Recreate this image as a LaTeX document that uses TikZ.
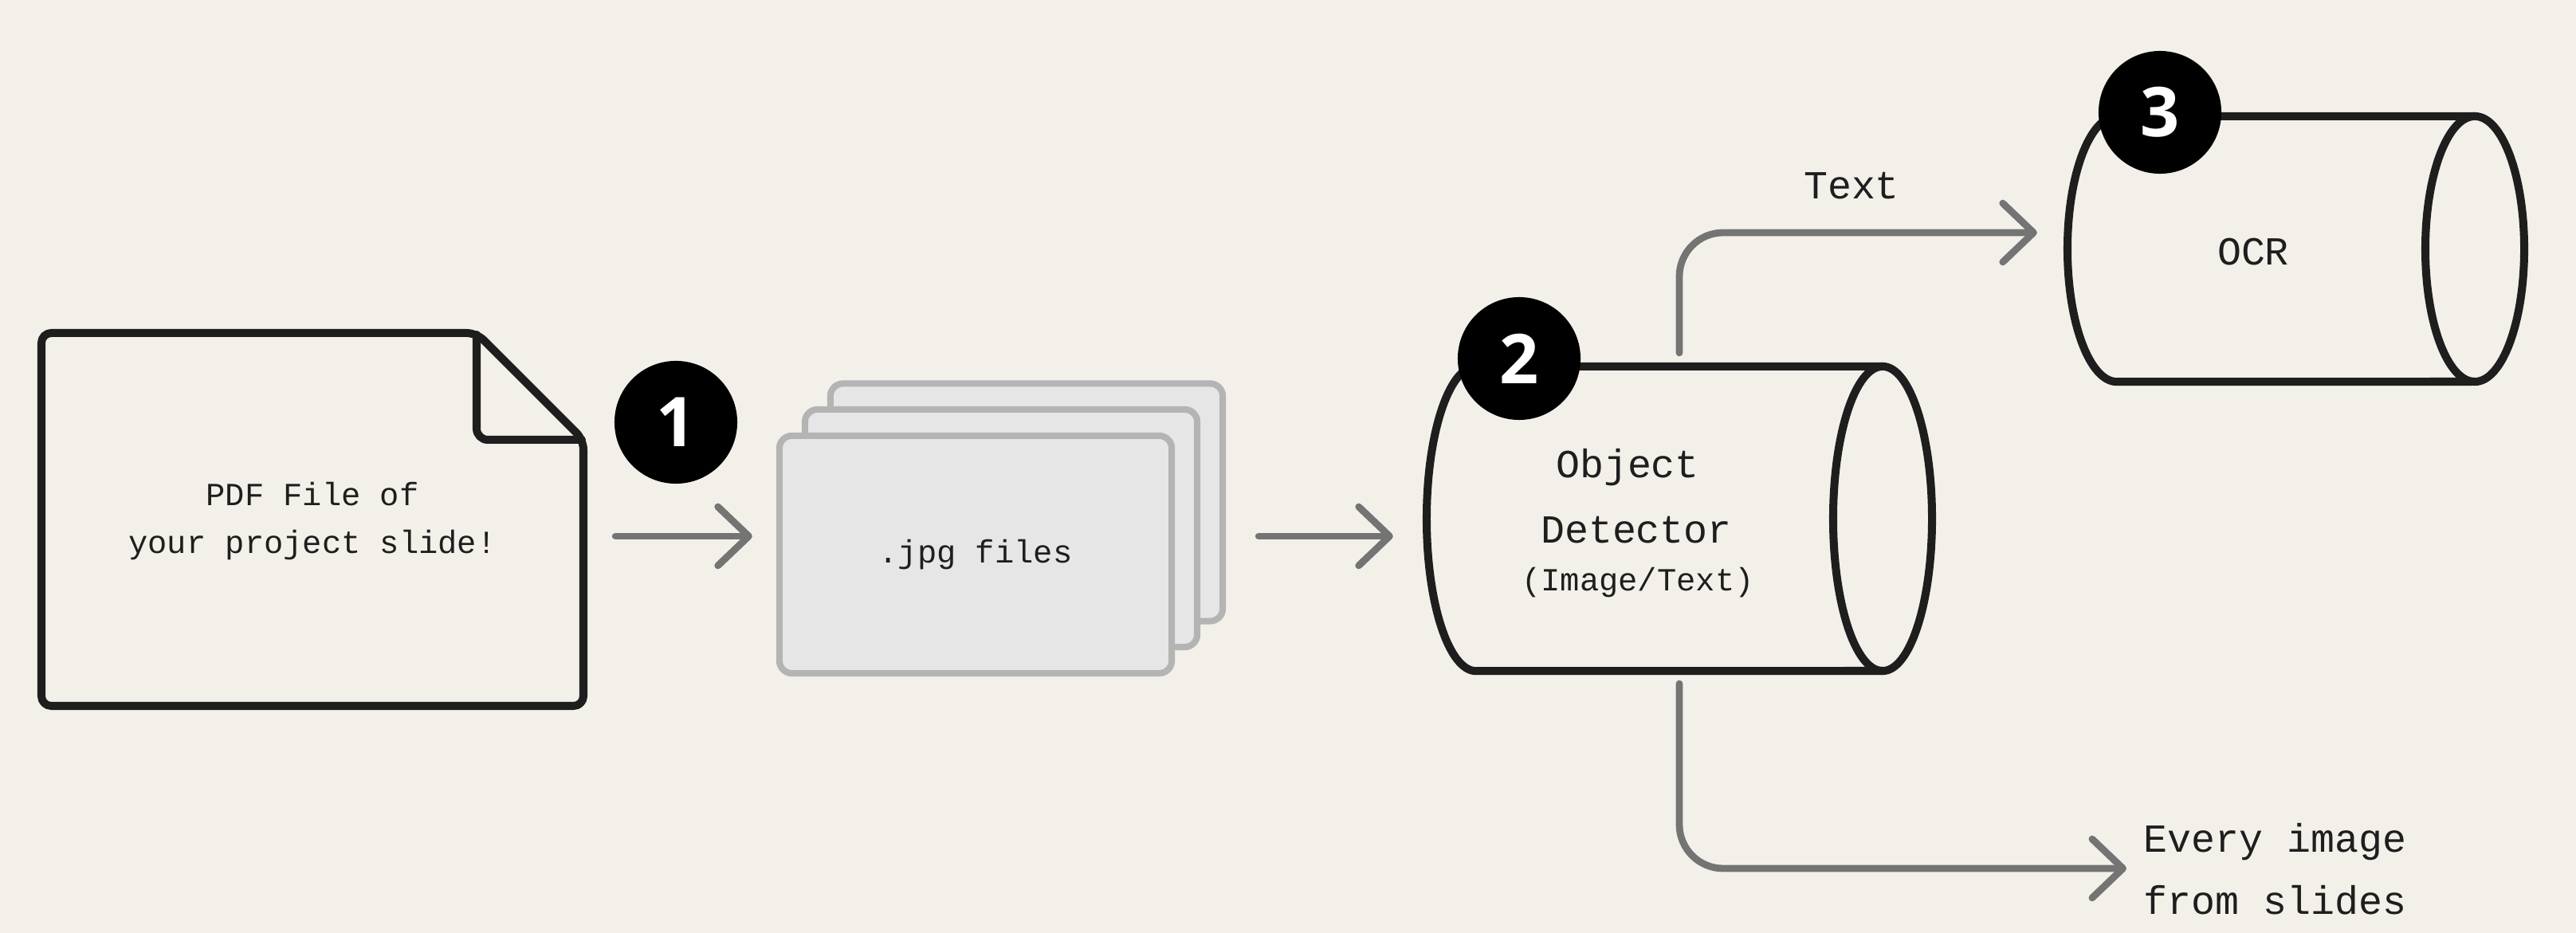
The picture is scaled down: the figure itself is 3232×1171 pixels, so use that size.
\documentclass[tikz,border=0pt]{standalone}
\usepackage{fontspec}
\usetikzlibrary{arrows.meta,calc}
\newfontfamily\monof{Liberation Mono}
\newfontfamily\badgef{Open Sans}
\definecolor{paper}{HTML}{F3F0EA}
\definecolor{ink}{HTML}{1E1E1E}
\definecolor{arrowgray}{HTML}{747474}
\definecolor{sheetfill}{HTML}{E6E6E6}
\definecolor{sheetedge}{HTML}{B4B4B4}
\tikzset{
  outline/.style={draw=ink, line width=2.85pt, line join=round, line cap=round},
  flow/.style={draw=arrowgray, line width=2.5pt, line cap=round, rounded corners=0.55cm,
    -{Straight Barb[length=11pt,width=21pt,round]}},
  sheet/.style={draw=sheetedge, fill=sheetfill, line width=2.3pt, rounded corners=4.5pt,
    minimum width=4.92cm, minimum height=2.98cm, inner sep=0pt},
  hull/.style={inner sep=0pt, outer sep=0pt},
  lbl/.style={inner sep=0pt, text=ink, font=\monof\fontsize{14.2}{22.2}\selectfont},
  lblsmall/.style={inner sep=0pt, text=ink, font=\monof\fontsize{11.5}{14}\selectfont},
  badge/.style={circle, fill=black, text=white, minimum size=1.54cm, inner sep=0pt,
    font=\badgef\bfseries\fontsize{24.5}{26}\selectfont}
}
\begin{document}
\begin{tikzpicture}[x=0.01cm,y=-0.01cm]
\fill[paper] (0,0) rectangle (3232,1171);
\useasboundingbox (0,0) rectangle (3232,1171);

% document
\node[hull, minimum width=6.8cm, minimum height=4.68cm] (doc) at (392,652) {};
\draw[outline, rounded corners=3.5pt] (52,418) -- (598,418) -- (732,552) -- (732,886) -- (52,886) -- cycle;
\draw[outline, rounded corners=4pt] (598,420) -- (598,552) -- (730,552);
\node[lblsmall, anchor=base] (pdf1) at (392,635) {PDF File of};
\node[lblsmall, anchor=base] (pdf2) at (392,695) {your project slide!};

% jpg stack
\node[sheet] (s3) at (1288,630.5) {};
\node[sheet] (s2) at (1256,663) {};
\node[sheet, font=\monof\fontsize{11.5}{14}\selectfont, text=ink] (s1) at (1224,696) {.jpg files};

% object detector cylinder
\node[hull, minimum width=6.34cm, minimum height=3.82cm] (det) at (2107,651) {};
\draw[outline] (2362,460) -- (1852,460) arc[start angle=90, end angle=270, x radius=0.62cm, y radius=1.91cm] -- (2362,842);
\draw[outline] (2362,651) ellipse [x radius=0.62cm, y radius=1.91cm];
\node[lbl, anchor=base] (objl) at (2042,600) {Object};
\node[lbl, anchor=base] (detl) at (2053,682) {Detector};
\node[lblsmall, anchor=base] (imgl) at (2055,742) {(Image/Text)};

% OCR cylinder
\node[hull, minimum width=5.73cm, minimum height=3.33cm] (ocr) at (2880.5,312.5) {};
\draw[outline] (3105,146) -- (2656,146) arc[start angle=90, end angle=270, x radius=0.62cm, y radius=1.665cm] -- (3105,479);
\draw[outline] (3105,312.5) ellipse [x radius=0.62cm, y radius=1.665cm];
\node[lbl, anchor=base] (ocrl) at (2827,333) {OCR};

% labels
\node[lbl, anchor=base] (textl) at (2323,250) {Text};
\node[lbl, anchor=west, align=left] (every) at (2689,1091) {Every image\\from slides};

% badges
\node[badge] (b1) at (848,530) {1};
\node[badge] (b2) at (1906,450) {2};
\node[badge] (b3) at (2710,141) {3};

% connectors
\draw[flow] ($(doc.east)+(40,21)$) -- ($(s1.west)+(-30,-23)$);
\draw[flow] ($(s3.east)+(41,42.5)$) -- ($(det.west)+(-42,22)$);
\draw[flow] ($(det.north)+(0,-17)$) |- ($(ocr.west)+(-38,-20.5)$);
\draw[flow] ($(det.south)+(0,16)$) |- ($(every.west)+(-21,-1)$);
\end{tikzpicture}
\end{document}
